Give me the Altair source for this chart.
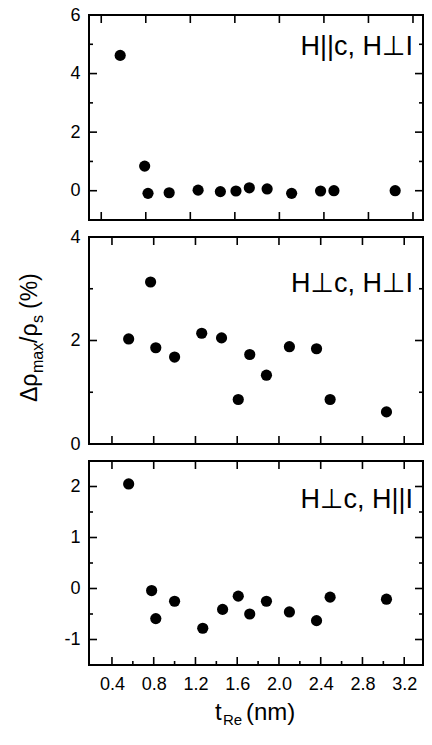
import altair as alt
import pandas as pd

FONT = "Liberation Sans, Arial, DejaVu Sans, sans-serif"

# ---------------- data ----------------
t_top = [0.57, 0.79, 0.82, 1.01, 1.27, 1.47, 1.61, 1.73, 1.89, 2.11, 2.37, 2.49, 3.04]
v_top = [4.62, 0.84, -0.09, -0.07, 0.02, -0.03, -0.01, 0.10, 0.06, -0.09, -0.01, 0.00, 0.00]

t_mid = [0.56, 0.77, 0.82, 1.00, 1.26, 1.45, 1.61, 1.72, 1.88, 2.10, 2.36, 2.49, 3.03]
v_mid = [2.03, 3.13, 1.86, 1.68, 2.14, 2.05, 0.86, 1.73, 1.33, 1.88, 1.84, 0.86, 0.62]

t_bot = [0.56, 0.78, 0.82, 1.00, 1.27, 1.46, 1.61, 1.72, 1.88, 2.10, 2.36, 2.49, 3.03]
v_bot = [2.05, -0.04, -0.59, -0.25, -0.78, -0.41, -0.15, -0.50, -0.25, -0.46, -0.63, -0.17, -0.21]

panel_labels = ["H||c, H\u22a5I", "H\u22a5c, H\u22a5I", "H\u22a5c, H||I"]

x_tick_values = [0.4, 0.8, 1.2, 1.6, 2.0, 2.4, 2.8, 3.2]
x_minor_values = [0.6, 1.0, 1.4, 1.8, 2.2, 2.6, 3.0]

y_top_labels = [0, 2, 4, 6]
y_top_major = [0, 2, 4]
y_top_minor = [1, 3, 5]

y_mid_labels = [0, 2, 4]
y_mid_major = [2]
y_mid_minor = [1, 3]

y_bot_labels = [-1, 0, 1, 2]
y_bot_major = [-1, 0, 1, 2]
y_bot_minor = [-0.5, 0.5, 1.5]

y_title_parts = ["\u0394\u03c1", "max", "/\u03c1", "s", "(%)"]
x_title_parts = ["t", "Re", "(nm)"]

# ---------------- layout ----------------
W = 334
H_TOP, H_MID, H_BOT = 205, 207, 204
MAJ, MIN = 8, 4


def make_panel(t, v, xdom, ydom, ylabels, ymajor, yminor, label, label_y, H,
               show_x=False, extra=None):
    xs = alt.Scale(domain=xdom, nice=False, zero=False)
    ys = alt.Scale(domain=ydom, nice=False, zero=False)
    if show_x:
        xaxis = alt.Axis(values=x_tick_values, format=".1f", ticks=False, tickSize=0,
                         domain=False, grid=False, title=None, labelFontSize=18,
                         labelPadding=10, labelFont=FONT, labelColor="black")
    else:
        xaxis = None
    yaxis = alt.Axis(values=ylabels, labelExpr="datum.value + ''", ticks=False, tickSize=0,
                     domain=False, grid=False, title=None, labelFontSize=18,
                     labelPadding=9, labelFont=FONT, labelColor="black")

    def X(field):
        return alt.X(field, scale=xs, axis=xaxis)

    def Y(field):
        return alt.Y(field, scale=ys, axis=yaxis)

    df = pd.DataFrame({"t": t, "v": v})
    pts = alt.Chart(df).mark_circle(size=125, color="black", opacity=1).encode(
        x=X("t:Q"), y=Y("v:Q"))
    layers = [pts]

    rule = dict(color="black", strokeWidth=1.6)
    for vals, ln in ((ymajor, MAJ), (yminor, MIN)):
        d = pd.DataFrame({"v": vals})
        layers.append(alt.Chart(d).mark_rule(**rule).encode(
            y=Y("v:Q"), x=alt.value(0), x2=alt.value(ln)))
        layers.append(alt.Chart(d).mark_rule(**rule).encode(
            y=Y("v:Q"), x=alt.value(W - ln), x2=alt.value(W)))
    d = pd.DataFrame({"v": x_tick_values})
    layers.append(alt.Chart(d).mark_rule(**rule).encode(
        x=X("v:Q"), y=alt.value(0), y2=alt.value(MAJ)))
    layers.append(alt.Chart(d).mark_rule(**rule).encode(
        x=X("v:Q"), y=alt.value(H - MAJ), y2=alt.value(H)))
    if show_x:
        dm = pd.DataFrame({"v": x_minor_values})
        layers.append(alt.Chart(dm).mark_rule(**rule).encode(
            x=X("v:Q"), y=alt.value(H - MIN), y2=alt.value(H)))

    txt = alt.Chart(pd.DataFrame({"s": [label]})).mark_text(
        font=FONT, fontSize=27, align="right", baseline="alphabetic", color="black"
    ).encode(text="s:N", x=alt.value(W - 10), y=alt.value(label_y))
    layers.append(txt)
    if extra:
        layers += extra
    return alt.layer(*layers).properties(width=W, height=H)


# y-axis title pieces (rotated) placed in the middle panel
def ytitle_piece(s, size, ypos, xpos):
    return alt.Chart(pd.DataFrame({"s": [s]})).mark_text(
        font=FONT, fontSize=size, angle=270, align="left", baseline="alphabetic",
        color="black").encode(text="s:N", x=alt.value(xpos), y=alt.value(ypos))


ytitle = [
    ytitle_piece(y_title_parts[0], 23, 165, -52),
    ytitle_piece(y_title_parts[1], 16, 136, -46),
    ytitle_piece(y_title_parts[2], 23, 106, -52),
    ytitle_piece(y_title_parts[3], 16, 86, -46),
    ytitle_piece(y_title_parts[4], 23, 72, -52),
]


def xtitle_piece(s, size, xpos, ypos):
    return alt.Chart(pd.DataFrame({"s": [s]})).mark_text(
        font=FONT, fontSize=size, align="left", baseline="alphabetic",
        color="black").encode(text="s:N", x=alt.value(xpos), y=alt.value(ypos))


xtitle = [
    xtitle_piece(x_title_parts[0], 24, 126, H_BOT + 55),
    xtitle_piece(x_title_parts[1], 15, 134, H_BOT + 60),
    xtitle_piece(x_title_parts[2], 24, 157, H_BOT + 55),
]

top = make_panel(t_top, v_top, [0.29, 3.29], [-1, 6], y_top_labels, y_top_major, y_top_minor,
                 panel_labels[0], 40, H_TOP)
mid = make_panel(t_mid, v_mid, [0.18, 3.38], [0, 4], y_mid_labels, y_mid_major, y_mid_minor,
                 panel_labels[1], 55, H_MID, extra=ytitle)
bot = make_panel(t_bot, v_bot, [0.18, 3.38], [-1.5, 2.5], y_bot_labels, y_bot_major, y_bot_minor,
                 panel_labels[2], 47, H_BOT, show_x=True, extra=xtitle)

chart = alt.vconcat(top, mid, bot, spacing=17, bounds="flush").properties(
    autosize=alt.AutoSizeParams(type="none"),
    padding={"left": 81, "top": 7, "right": 1, "bottom": 714},
    background="white",
).configure_view(stroke="black", strokeWidth=2)

chart.save("out.html", embed_options={"renderer": "svg", "actions": False})
